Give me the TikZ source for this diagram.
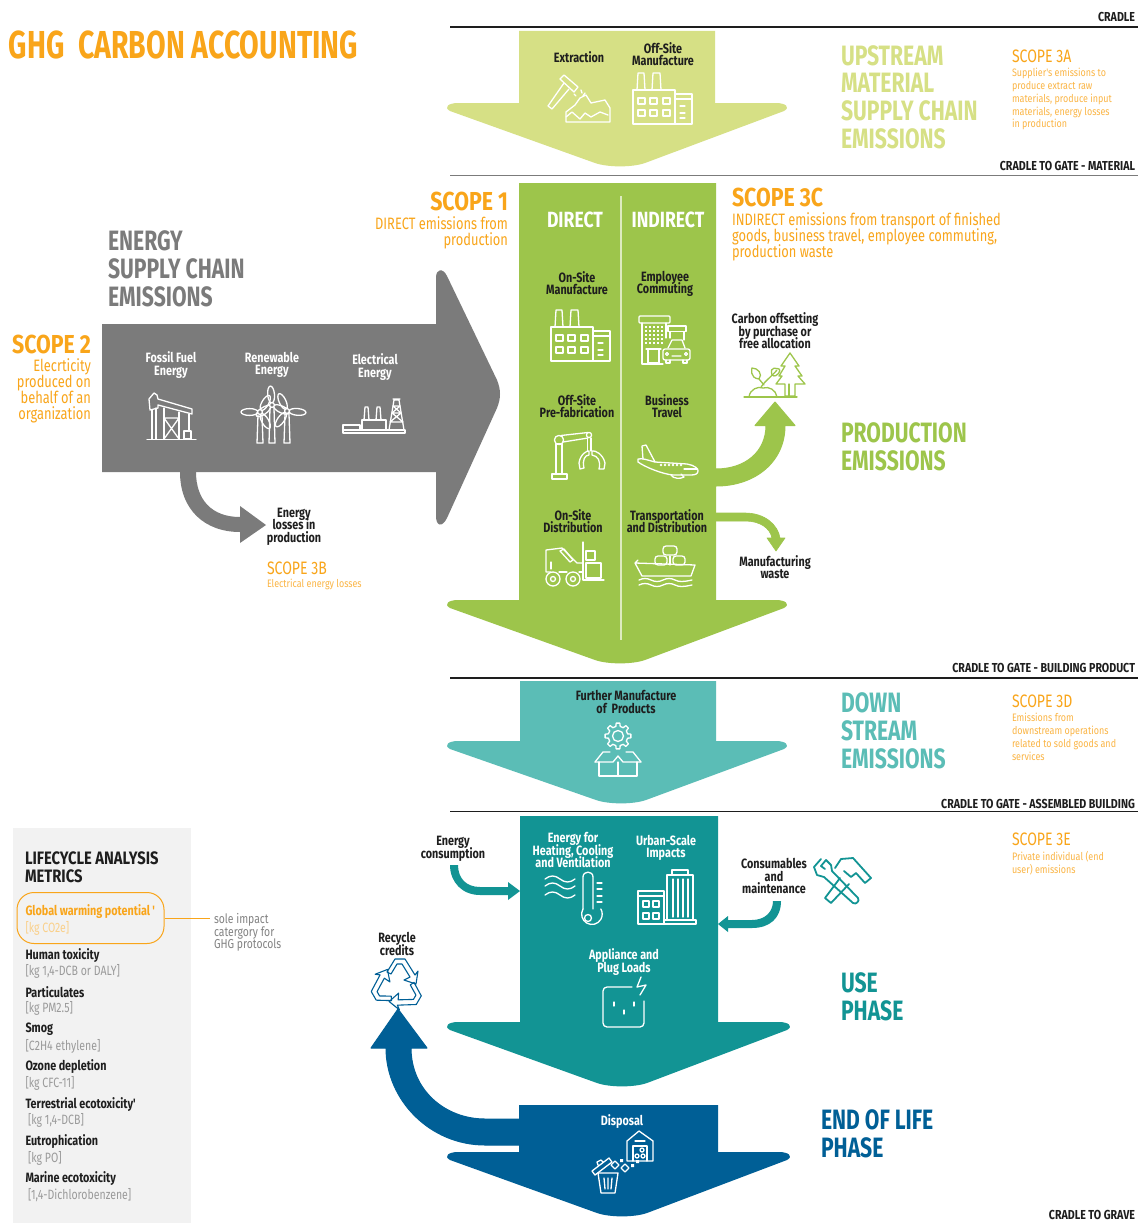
\documentclass[tikz,border=0pt]{standalone}
\usepackage{fontspec}
\setmainfont[FakeStretch=0.72]{Fira Sans}
\newfontfamily\fA[FakeStretch=0.80]{Fira Sans}
\newfontfamily\fB[FakeStretch=0.82]{Fira Sans}
\newfontfamily\fC[FakeStretch=0.83]{Fira Sans}
\newfontfamily\fD[FakeStretch=0.78]{Fira Sans}
\newfontfamily\fE[FakeStretch=0.755]{Fira Sans}
\newfontfamily\fT[FakeStretch=0.73]{Fira Sans}
\definecolor{cyel}{HTML}{D6E085}
\definecolor{cgrn}{HTML}{9DC54B}
\definecolor{cgry}{HTML}{7B7B7B}
\definecolor{ctel}{HTML}{5BBDB6}
\definecolor{cdkt}{HTML}{129494}
\definecolor{cblu}{HTML}{005F96}
\definecolor{corg}{HTML}{F9A51A}
\definecolor{clor}{HTML}{FBB545}
\definecolor{cpal}{HTML}{FAD08A}
\definecolor{cink}{HTML}{1E1E1E}
\definecolor{cbrk}{HTML}{9A9A9A}
\definecolor{cpan}{HTML}{F2F2F2}
\newcommand\fsz[2]{\fontsize{#1}{#2}\selectfont\lineskiplimit=-100pt\relax}
\tikzset{
  x=1pt,y=-1pt,
  txt/.style={inner sep=0,outer sep=0,align=center},
  lab/.style={txt,font=\fA\fsz{13.5}{12.6}\bfseries,text=cink},
  wlab/.style={lab,text=white},
  big/.style={txt,anchor=west,align=left,font=\fE\fsz{28}{27.8}\bfseries},
  scop/.style={txt,anchor=west,align=left,font=\fD\fsz{18}{18},text=corg},
  sm/.style={txt,anchor=north west,align=left,font=\fC\fsz{10.8}{12.7},text=clor},
  mid/.style={txt,font=\fD\fsz{16.5}{16},text=corg},
  sco/.style={txt,font=\fB\fsz{26}{26}\bfseries,text=corg},
  tag/.style={txt,anchor=east,font=\fB\fsz{13}{13}\bfseries,text=cink},
  met/.style={txt,anchor=west,font=\fA\fsz{13.5}{13}\bfseries,text=cink},
  brk/.style={txt,anchor=west,font=\fD\fsz{13.5}{13},text=cbrk},
  ico/.style={draw=#1,line width=1.3,line join=round,line cap=round,fill=none},
  rul/.style={line width=1.1}
}
\newcommand\bigarrow[9]{%
 \fill[#1] (#5,#2)--(#6,#2)--(#6,#3)--({#8-12},#3) .. controls ({#8-3},#3) and ({#8+3},{#3+4}) .. ({#8-4},{#3+8})
  --({#9+25},{#4-4}) .. controls ({#9+12},{#4+0.5}) and ({#9-12},{#4+0.5}) .. ({#9-25},{#4-4})
  --({#7+4},{#3+8}) .. controls ({#7-3},{#3+4}) and ({#7+3},#3) .. ({#7+12},#3)--(#5,#3)--cycle;}
\newcommand\factoryicon[3]{\begin{scope}[shift={(#1,#2)},ico=#3]
 \draw (4,18)--(5,1)--(11,1)--(12,18);
 \draw (19,18)--(20,1)--(27,1)--(28,18);
 \draw (0,18) rectangle (42,52);
 \draw (42,22) rectangle (59,52);
 \draw (42,27)--(59,27);
 \foreach \q in {34,41,46}{\draw (47,\q)--(52,\q);}
 \foreach \px in {5,17,30}{\foreach \py in {26,38}{\draw (\px,\py) rectangle ({\px+7},{\py+6});}}
\end{scope}}
\newcommand\hammericon[3]{\begin{scope}[shift={(#1,#2)},ico=#3]
 \draw (16,1)--(30,13)--(26,18)--(12,5)--cycle;
 \draw (16,9)--(0,32)--(4,35)--(21,15);
 \draw (18,48)--(62,48)--(62,34)--(57,26)--(43,29)--(38,21)--(32,24)--(27,31)--(18,38)--cycle;
 \draw (18,43)--(24,38)--(32,45)--(37,39)--(43,43)--(52,38)--(60,41);
 \draw (26,20)--(28,22) (33,16)--(34,19) (37,19)--(35,22);
\end{scope}}
\newcommand\pumpicon[3]{\begin{scope}[shift={(#1,#2)},ico=#3]
 \draw (3,18)--(2,7)--(7,1)--(10,3)--(11,7)--(45,17)--(45,22)--(11,13)--(11,16)--cycle;
 \draw (5,18)--(5,47) (9,16)--(9,47) (17,16)--(17,47) (32,20)--(32,47);
 \draw (17,26)--(32,47) (32,26)--(17,47) (17,26)--(32,26);
 \draw (42,22)--(42,39);
 \draw (37,39) rectangle (44,47);
 \draw (0,47.5)--(49,47.5);
\end{scope}}
\newcommand\turbine[5]{\begin{scope}[ico=#5]
 \draw (#1-2,#2+3)--(#1-3,#3)--(#1+3,#3)--(#1+2,#2+3);
 \foreach \r in {0,120,240}{\draw[rotate around={{\r+#4}:(#1,#2)}] (#1,#2-10.5) ellipse (3.4 and 8.5);}
 \draw[fill=cgry] (#1,#2) circle (2.4);
\end{scope}}
\newcommand\refineryicon[3]{\begin{scope}[shift={(#1,#2)},ico=#3]
 \draw (0,32) rectangle (62,35);
 \draw (0,27) rectangle (17,32);
 \draw (19,22) rectangle (43,32);
 \draw (21,22)--(22,9)--(25,9)--(26,22) (33,22)--(34,9)--(37,9)--(38,22);
 \draw (46,32)--(51,2)--(56,2)--(61,32) (50,1)--(57,1);
 \draw (50,8)--(57,8) (49,15)--(58,15) (47,24)--(60,24) (50,8)--(58,15)--(49,15)--(57,8) (49,15)--(60,24) (58,15)--(47,24);
\end{scope}}
\newcommand\commuteicon[3]{\begin{scope}[shift={(#1,#2)},ico=#3]
 \draw[rounded corners=1] (0,0) rectangle (31,7);
 \draw (3,7)--(3,48)--(24,48) (27,7)--(27,22);
 \draw (29,10) rectangle (47,15.5);
 \draw (31,15.5)--(31,22) (45,15.5)--(45,24);
 \foreach \px in {7,11,15,19,23}{\foreach \py in {11,15,19,23,27}{\fill[#3] (\px-1,\py-1) rectangle (\px+1,\py+1);}}
 \draw (9,33) rectangle (20,47);
 \draw (7,33)--(22,33);
 \draw (29,32)--(33,24)--(43,24)--(46,32);
 \draw[rounded corners=2] (24,33) rectangle (51,44);
 \draw (27,44)--(27,47)--(31,47)--(31,44) (44,44)--(44,47)--(48,47)--(48,44);
 \draw (28,38) circle (1.5) (47,38) circle (1.5) (33,40)--(42,40);
\end{scope}}
\newcommand\roboticon[3]{\begin{scope}[shift={(#1,#2)},ico=#3]
 \draw (0,42) rectangle (15,47);
 \draw (4,12) rectangle (10,42);
 \draw (7,8) circle (4.6);
 \draw (9,3.5)--(36,0.5) (11,10)--(36,6);
 \draw (37,3) circle (2.6);
 \draw (35.5,6)--(35.5,19) (39,6)--(39,19);
 \draw (28,37)--(27,31) .. controls (28,22) and (36,18) .. (37,19) --(37,23) .. controls (33,23) and (30,28) .. (32,36)--cycle;
 \draw (52,37)--(53,31) .. controls (51,22) and (43,18) .. (40,19) --(40,23) .. controls (46,24) and (49,29) .. (47,37)--cycle;
\end{scope}}
\newcommand\planeicon[3]{\begin{scope}[shift={(#1,#2)},ico=#3]
 \draw (6,14)--(5,1)--(9,0)--(18,17);
 \draw (1,14) .. controls (6,13) and (10,15) .. (18,17)--(50,19) .. controls (57,20) and (62,24) .. (61,26) .. controls (61,29) and (58,30) .. (54,30)--(36,30) .. controls (25,29) and (8,22) .. (1,17)--cycle;
 \draw (34,30) .. controls (36,34) and (44,34) .. (47,32)--(44,29);
 \draw (47,24)--(60,24);
 \foreach \px in {24,28,32,36,40,44}{\fill[#3] (\px,20) circle (1.4);}
\end{scope}}
\newcommand\forkicon[3]{\begin{scope}[shift={(#1,#2)},ico=#3]
 \draw (6,30)--(1,30)--(1,8)--(17,6)--(32,21)--(38,21);
 \draw (38,0)--(38,38)--(59,38);
 \draw (15,9)--(19,7)--(28,18)--(25,20)--cycle;
 \draw (6,20)--(6,27);
 \draw (14,30)--(22,30) (34,30)--(38,30);
 \draw (8,37) circle (7) (8,37) circle (2.5) (28,37) circle (7) (28,37) circle (2.5);
 \draw (41,9) rectangle (50,18);
 \draw (41,21) rectangle (56,36);
\end{scope}}
\newcommand\shipicon[3]{\begin{scope}[shift={(#1,#2)},ico=#3]
 \draw[rounded corners=3] (29,1) rectangle (43,10);
 \draw[rounded corners=3] (21,11) rectangle (33,20);
 \draw[rounded corners=3] (39,11) rectangle (51,20);
 \draw (36,11)--(36,20);
 \draw (1,18)--(61,20)--(57,31)--(8,31)--(1,18)--(4,15);
 \foreach \yy in {35,40}{\draw (5,\yy) .. controls (9,{\yy-2}) and (13,{\yy-2}) .. (17,\yy) .. controls (21,{\yy+2}) and (25,{\yy+2}) .. (29,\yy) .. controls (33,{\yy-2}) and (37,{\yy-2}) .. (41,\yy) .. controls (45,{\yy+2}) and (49,{\yy+2}) .. (58,\yy);}
\end{scope}}
\newcommand\treeicon[3]{\begin{scope}[shift={(#1,#2)},ico=#3]
 \draw (46,0)--(55,13)--(51,13)--(58,23)--(54,23)--(61,31)--(51,31)--(51,43)--(41,43)--(41,31)--(32,31)--(38,23)--(35,23)--(41,13)--(37,13)--cycle;
 \draw (45,31)--(45,43);
 \draw (0,44)--(53,44);
 \draw (5,44) .. controls (6,36) and (14,33) .. (19,35) .. controls (25,33) and (32,37) .. (33,44);
 \draw (17,34) .. controls (21,28) and (27,24) .. (33,17);
 \draw (15,26) .. controls (5,25) and (8,15) .. (8,15) .. controls (14,15) and (19,21) .. (15,26)--(20,32);
 \draw (28,22) .. controls (25,12) and (34,16) .. (35,16) .. controls (38,16) and (33,26) .. (28,22);
\end{scope}}
\newcommand\gearboxicon[3]{\begin{scope}[shift={(#1,#2)},ico=#3]
 \draw (0,0) circle (5.5);
 \foreach \a in {0,45,...,315}{\draw ({\a-13}:9.8)--({\a-8}:13)--({\a+8}:13)--({\a+13}:9.8)--({\a+32}:9.8);}
 \draw (-19,26)--(-19,40)--(19,40)--(19,26);
 \draw (0,26)--(0,40);
 \draw (-23,26)--(-15,16)--(-8,16) (23,26)--(15,16)--(8,16);
 \draw (-23,26)--(-5,26)--(0,20)--(5,26)--(23,26);
\end{scope}}
\newcommand\thermoicon[3]{\begin{scope}[shift={(#1,#2)},ico=#3]
 \foreach \yy in {7,14,23}{\draw (0,\yy) .. controls (5,{\yy-4}) and (10,{\yy-4}) .. (15,\yy) .. controls (20,{\yy+4}) and (25,{\yy+4}) .. (30,\yy);}
 \draw (38,37)--(38,5) .. controls (38,-1.5) and (48,-1.5) .. (48,5)--(48,37);
 \draw (38,37) arc[start angle=210,end angle=-30,radius=10.3];
 \draw (43,46) circle (3.5);
 \foreach \yy in {11,17,24,30}{\draw (52,\yy)--(57,\yy);}
\end{scope}}
\newcommand\urbanicon[3]{\begin{scope}[shift={(#1,#2)},ico=#3]
 \draw (30,51)--(30,6)--(56,6)--(56,51);
 \draw (35,6)--(35,1)--(51,1)--(51,6);
 \foreach \px in {36,41,46,51}{\draw (\px,10)--(\px,48);}
 \draw (27,51) rectangle (59,55);
 \draw (1,22) rectangle (27,55);
 \draw (1,27)--(27,27);
 \foreach \px in {6,16}{\foreach \py in {32,44}{\draw (\px,\py) rectangle ({\px+6},{\py+6});}}
\end{scope}}
\newcommand\socketicon[3]{\begin{scope}[shift={(#1,#2)},ico=#3]
 \draw[rounded corners=4] (29,0)--(0,0)--(0,40)--(41,40)--(41,14);
 \draw (38,-10)--(34,0)--(43,-2)--(37,8);
 \draw (11,15)--(11,19) (31,15)--(31,19) (21,23)--(21,27);
\end{scope}}
\newcommand\toolsicon[3]{\begin{scope}[shift={(#1,#2)},ico=#3,line width=1.8]
 \draw (8,1)--(1,9)--(4,17)--(11,19)--(40,45) .. controls (43,47) and (47,43) .. (45,40)--(19,13)--(18,7)--(13,2)--(8,8)--(12,11);
 \draw (22,10)--(28,1)--(40,0)--(58,20)--(52,25)--(43,15)--(38,19)--(31,13);
 \draw (27,20)--(12,40)--(18,45)--(36,26);
\end{scope}}
\newcommand\recycleicon[3]{\begin{scope}[shift={(#1,#2)},ico=#3,line width=1.1]
 \foreach \r in {0,120,240}{\begin{scope}[rotate around={\r:(25.5,27)}]
  \draw (15,14)--(23,1)--(33,1)--(43,17)--(46,13)--(44,26)--(32,22)--(38,19)--(30,6)--(25,6)--(19,16)--cycle;
 \end{scope}}
\end{scope}}
\newcommand\trashicon[3]{\begin{scope}[shift={(#1,#2)},ico=#3]
 \draw (35,30)--(35,10)--(47,0)--(61,10)--(61,30)--cycle;
 \draw (41,30)--(41,15)--(55,15)--(55,30) (43,10)--(53,10);
 \draw (50,19) circle (2) (45,25) circle (2) (51,25) circle (2);
 \draw (6,42)--(26,42)--(23,62)--(9,62)--cycle;
 \draw (12,47)--(13,58) (16,47)--(16,58) (20,47)--(19,58);
 \draw (0,40)--(17,27)--(20,31)--(3,44)--cycle (6,34)--(5,31)--(9,29)--(11,31);
 \draw (33,33)--(37,37)--(33,41)--(29,37)--cycle (23,30)--(27,34)--(23,38)--(19,34)--cycle;
 \fill[#3] (28,28) rectangle (31,31) (39,33) rectangle (42,36) (44,29) rectangle (47,32);
\end{scope}}
\begin{document}
\begin{tikzpicture}
\useasboundingbox (0,0) rectangle (1142,1223);
\fill[white] (0,0) rectangle (1142,1223);
% panel
\fill[cpan] (13,828) rectangle (191,1223);
% rules
\coordinate (r1a) at (450,27); \coordinate (r1b) at (1138,27);
\coordinate (r2a) at (450,175.5); \coordinate (r2b) at (1138,175.5);
\coordinate (r3a) at (450,678); \coordinate (r3b) at (1138,678);
\coordinate (r4a) at (450,811.5); \coordinate (r4b) at (1138,811.5);
\draw[rul,cink] (r1a)--(r1b);
\draw[rul,cgry] (r2a)--(r2b);
\draw[rul,cink] (r3a)--(r3b);
\draw[rul,cink] (r4a)--(r4b);
% big arrows
\bigarrow{cyel}{31}{103}{167}{519}{715}{446}{788}{620}
\bigarrow{cgrn}{183}{600}{664}{519}{716}{446}{788}{620}
\bigarrow{ctel}{681}{741}{804}{520}{716}{446}{788}{621}
\bigarrow{cdkt}{816}{1022}{1087}{520}{718}{446}{791}{622}
\bigarrow{cblu}{1105}{1152}{1217}{519}{718}{446}{791}{622}
\draw[line width=1.6,white!65!cgrn] (621,196)--(621,640);
% grey arrow
\fill[cgry] (102,324)--(436,324)--(436,278) .. controls (436,268) and (443,268) .. (447,276)--(497,380) .. controls (501,390) and (501,398) .. (497,408)--(447,518) .. controls (442,528) and (436,526) .. (436,516)--(436,472)--(102,472)--cycle;
\fill[cgry] (180,472) .. controls (180,510) and (205,532) .. (240,532)--(240,543)--(266,525)--(240,506)--(240,517) .. controls (212,517) and (196,500) .. (196,472)--cycle;
% green curved
\filldraw[cgrn,line width=1,line join=round] (716,469) .. controls (745,469) and (766,452) .. (766,425.5)--(755,425.5)--(775,402)--(795,425.5)--(785,425.5) .. controls (785,462) and (755,486) .. (716,486)--cycle;
\filldraw[cgrn,line width=.6,line join=round] (716,513)--(745,513) .. controls (765,513) and (778,525) .. (780,538)--(785,538)--(776,551)--(767,538)--(772,538) .. controls (770,528) and (760,521) .. (745,521)--(716,521)--cycle;
% teal connectors
\fill[cdkt] (450,865) .. controls (450,882) and (462,895) .. (480,895)--(508,895)--(508,900)--(520,891)--(508,882)--(508,887)--(480,887) .. controls (466,887) and (458,878) .. (458,865)--cycle;
\fill[cdkt] (781,901) .. controls (781,918) and (770,928) .. (752,928)--(728,928)--(728,932)--(718,924)--(728,916)--(728,920)--(752,920) .. controls (765,920) and (773,912) .. (773,901)--cycle;
% blue curved
\filldraw[cblu,line width=1,line join=round] (519,1145)--(485,1145) .. controls (430,1145) and (386,1100) .. (386,1048)--(371,1048)--(398,1009)--(427,1048)--(411,1048) .. controls (411,1090) and (445,1119) .. (485,1119)--(519,1119)--cycle;
% title
\node[txt,anchor=west,font=\fT\fsz{39}{39}\bfseries,text=corg] (title) at (9,45) {GHG\ \ CARBON ACCOUNTING};
% tags
\node[tag] (t1) at (1135,17) {CRADLE};
\node[tag] (t2) at (1135,165.5) {CRADLE TO GATE - MATERIAL};
\node[tag] (t3) at (1135,668) {CRADLE TO GATE - BUILDING PRODUCT};
\node[tag] (t4) at (1135,804) {CRADLE TO GATE - ASSEMBLED BUILDING};
\node[tag] (t5) at (1135,1215) {CRADLE TO GRAVE};
% big labels
\node[big,text=cyel] (up) at (841,97) {UPSTREAM\\MATERIAL\\SUPPLY CHAIN\\EMISSIONS};
\node[big,text=cgry] (en) at (108,269) {ENERGY\\SUPPLY CHAIN\\EMISSIONS};
\node[big,text=cgrn] (pe) at (841,446.5) {PRODUCTION\\EMISSIONS};
\node[big,text=ctel] (ds) at (841,730.5) {DOWN\\STREAM\\EMISSIONS};
\node[big,text=cdkt] (us) at (841,997) {USE\\PHASE};
\node[big,text=cblu] (el) at (821,1134) {END OF LIFE\\PHASE};
% scope small
\node[scop] (s3a) at (1012,56) {SCOPE 3A};
\node[sm] (s3at) at (1012,68.5) {Supplier's emissions to\\produce extract raw\\materials, produce input\\materials, energy losses\\in production};
\node[scop] (s3b) at (267,568) {SCOPE 3B};
\node[txt,anchor=west,font=\fC\fsz{10.8}{12},text=clor] (s3bt) at (267,584.5) {Electrical energy losses};
\node[scop] (s3d) at (1012,701) {SCOPE 3D};
\node[sm] (s3dt) at (1012,713.5) {Emissions from\\downstream operations\\related to sold goods and\\services};
\node[scop] (s3e) at (1012,839) {SCOPE 3E};
\node[sm] (s3et) at (1012,851.5) {Private individual (end\\user) emissions};
% scope big
\node[sco,anchor=east] (s1) at (508,201) {SCOPE 1};
\node[mid,anchor=east,align=right] (s1t) at (508,233) {DIRECT emissions from\\production};
\node[sco,anchor=east] (s2) at (91,344) {SCOPE 2};
\node[mid,anchor=east,align=right] (s2t) at (91,391) {Elecrticity\\produced on\\behalf of an\\organization};
\node[sco,anchor=west] (s3c) at (732,197) {SCOPE 3C};
\node[mid,anchor=west,align=left] (s3ct) at (732,237) {INDIRECT emissions from transport of finished\\goods, business travel, employee commuting,\\production waste};
% labels
\node[lab] (l1) at (579,57) {Extraction};
\node[lab] (l2) at (663,54) {Off-Site\\Manufacture};
\node[wlab] (l3) at (171,365) {Fossil Fuel\\Energy};
\node[wlab] (l4) at (272,365) {Renewable\\Energy};
\node[wlab] (l5) at (375,367) {Electrical\\Energy};
\node[lab] (l6) at (294,526.5) {Energy\\losses in\\production};
\node[txt,font=\fA\fsz{22}{22}\bfseries,text=white] (dd) at (575,220) {DIRECT};
\node[txt,font=\fA\fsz{22}{22}\bfseries,text=white] (ii) at (668,220) {INDIRECT};
\node[lab] (l7) at (577,283) {On-Site\\Manufacture};
\node[lab] (l8) at (665,284) {Employee\\Commuting};
\node[lab] (l9) at (577,406) {Off-Site\\Pre-fabrication};
\node[lab] (l10) at (667,406) {Business\\Travel};
\node[lab] (l11) at (573,521) {On-Site\\Distribution};
\node[lab] (l12) at (667,521) {Transportation\\and Distribution};
\node[lab] (l13) at (775,331) {Carbon offsetting\\by purchase or\\free allocation};
\node[lab] (l14) at (775,567) {Manufacturing\\waste};
\node[lab] (l15) at (626,702) {Further Manufacture\\of\ \ Products};
\node[wlab] (l16) at (573,850) {Energy for\\Heating, Cooling\\and Ventilation};
\node[wlab] (l17) at (666,848) {Urban-Scale\\Impacts};
\node[wlab] (l18) at (624,962) {Appliance and\\Plug Loads};
\node[lab] (l19) at (453,849) {Energy\\consumption};
\node[lab] (l20) at (774,876) {Consumables\\and\\maintenance};
\node[lab] (l21) at (397,944) {Recycle\\credits};
\node[wlab] (l22) at (622,1121.5) {Disposal};
% metric panel
\node[txt,anchor=west,align=left,font=\fB\fsz{18}{18}\bfseries,text=cink] (lm) at (25,867) {LIFECYCLE ANALYSIS\\METRICS};
\node[draw=corg,line width=1,rounded corners=17,minimum width=147,minimum height=51,inner sep=0] (oval) at (90.5,918) {};
\node[met,text=corg] (m0) at (25.5,912) {Global warming potential\,'};
\node[brk,text=cpal] (b0) at (25.5,928) {[kg CO2e]};
\node[txt,anchor=west,align=left,font=\fA\fsz{13}{12.8},text=cbrk!85!black] (sole) at (214,932.5) {sole impact\\catergory for\\GHG protocols};
\coordinate (linend) at (210,918);
\draw[line width=.8,corg] (oval.east)--(linend);
\node[met] (m1) at (25.5,955.5) {Human toxicity};
\node[brk] (b1) at (25.5,971) {[kg 1,4-DCB or DALY]};
\node[met] (m2) at (25.5,992) {Particulates};
\node[brk] (b2) at (25.5,1008) {[kg PM2.5]};
\node[met] (m3) at (25.5,1029.5) {Smog};
\node[brk] (b3) at (25.5,1046) {[C2H4 ethylene]};
\node[met] (m4) at (25.5,1066.5) {Ozone depletion};
\node[brk] (b4) at (25.5,1083) {[kg CFC-11]};
\node[met] (m5) at (25.5,1104.5) {Terrestrial ecotoxicity'};
\node[brk] (b5) at (28,1120) {[kg 1,4-DCB]};
\node[met] (m6) at (25.5,1141.5) {Eutrophication};
\node[brk] (b6) at (28,1158) {[kg PO]};
\node[met] (m7) at (25.5,1178.5) {Marine ecotoxicity};
\node[brk] (b7) at (28,1195) {[1,4-Dichlorobenzene]};
% icons
\hammericon{548}{74}{white}
\factoryicon{633}{72}{white}
\factoryicon{551}{309}{white}
\pumpicon{147}{392}{white}
\turbine{272}{405}{443}{5}{white}
\turbine{260}{412}{443}{-30}{white}
\turbine{287}{411}{443}{25}{white}
\refineryicon{343}{398}{white}
\commuteicon{639}{316}{white}
\roboticon{552}{432}{white}
\planeicon{637}{445}{white}
\forkicon{545}{542}{white}
\shipicon{634}{545}{white}
\treeicon{744}{353}{cgrn}
\gearboxicon{618}{736}{white}
\thermoicon{545}{872}{white}
\urbanicon{637}{869}{white}
\socketicon{603}{987}{white}
\toolsicon{813}{858}{cdkt}
\recycleicon{372}{958}{cblu}
\trashicon{592}{1131}{white}
\end{tikzpicture}
\end{document}
